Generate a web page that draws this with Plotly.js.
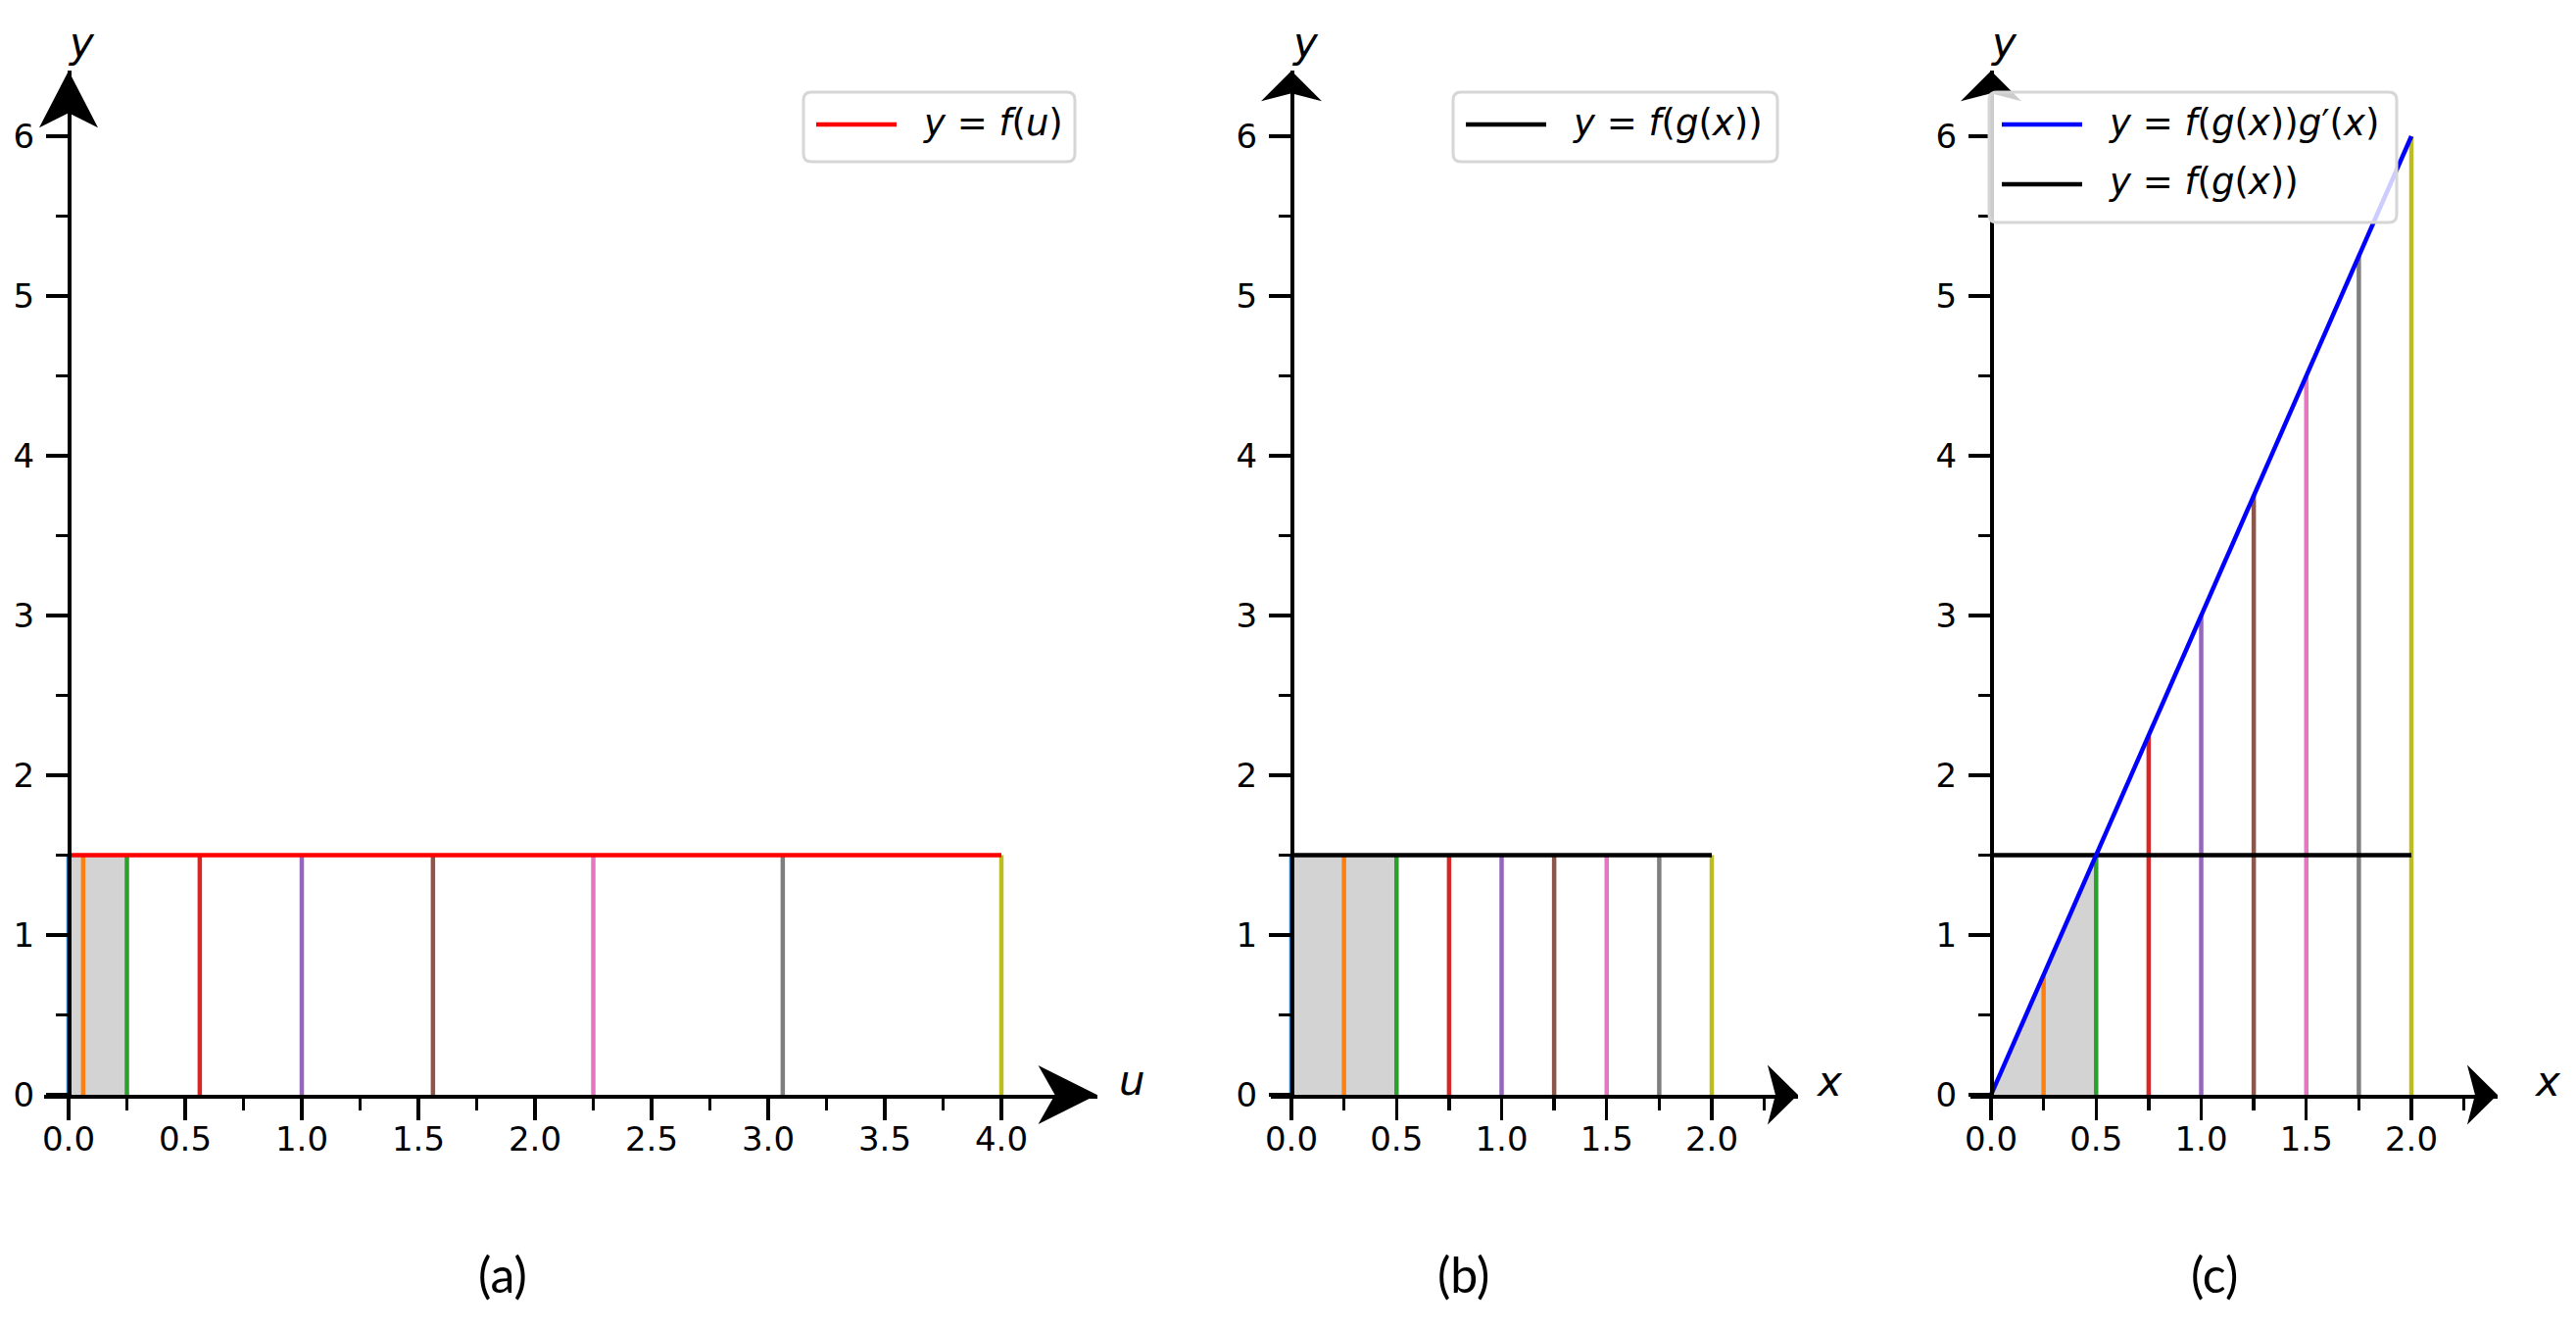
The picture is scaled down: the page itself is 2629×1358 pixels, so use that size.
<!DOCTYPE html>
<html>
<head>
<meta charset="utf-8">
<script src="https://cdn.plot.ly/plotly-3.0.1.min.js"></script>
<style>
  html, body { margin: 0; padding: 0; background: #fff; }
  #myDiv { width: 2629px; height: 1358px; }
</style>
</head>
<body>
<div id="myDiv"></div>
<script>
// ---- data ----
var xKnots = [0, 0.25, 0.5, 0.75, 1, 1.25, 1.5, 1.75, 2];
var uKnots = [0, 0.0625, 0.25, 0.5625, 1, 1.5625, 2.25, 3.0625, 4];
var flatHeights = [1.5, 1.5, 1.5, 1.5, 1.5, 1.5, 1.5, 1.5, 1.5];
var slopeHeights = [0, 0.75, 1.5, 2.25, 3, 3.75, 4.5, 5.25, 6];
var knotColors = ['#1f77b4', '#ff7f0e', '#2ca02c', '#d62728', '#9467bd',
                  '#8c564b', '#e377c2', '#7f7f7f', '#bcbd22'];

var fLineU = [0, 4], fLineUY = [1.5, 1.5];
var fLineX = [0, 2], fLineXY = [1.5, 1.5];
var slopeLineX = [0, 2], slopeLineY = [0, 6];

var shadeU = [0, 0.25], shadeUTop = [1.5, 1.5];
var shadeXb = [0, 0.5], shadeXbTop = [1.5, 1.5];
var shadeXc = [0, 0.5], shadeXcTop = [0, 1.5];

var panelNames = ['(a)', '(b)', '(c)'];
var xLabels = ['u', 'x', 'x'];
var legendA = [{text: '<i>y</i> = <i>f</i>(<i>u</i>)', color: '#ff0000'}];
var legendB = [{text: '<i>y</i> = <i>f</i>(<i>g</i>(<i>x</i>))', color: '#000000'}];
var legendC = [{text: '<i>y</i> = <i>f</i>(<i>g</i>(<i>x</i>))<i>g</i>\u2032(<i>x</i>)', color: '#0000ff'},
               {text: '<i>y</i> = <i>f</i>(<i>g</i>(<i>x</i>))', color: '#000000'}];

// ---- page geometry (pixels) ----
var W = 2629, H = 1358;
var Y0PX = 1117, YUNIT = 163, YMAX = 6.41;
var panels = [
  {x0: 70,   unit: 238,   xmin: -0.105, xmax: 4.41, xa: 'x',  ya: 'y',
   xArrow: {len: 60, half: 30, back: 17}, yArrow: {len: 58, half: 30, back: 15},
   xlab: [1155, 1102], ylab: [83, 44], name: [513, 1300]},
  {x0: 1318, unit: 214.5, xmin: -0.10,  xmax: 2.41, xa: 'x2', ya: 'y2',
   xArrow: {len: 31, half: 30.5, back: 8}, yArrow: {len: 31, half: 31, back: 8},
   xlab: [1867, 1103], ylab: [1332, 44], name: [1493, 1300]},
  {x0: 2032, unit: 214.5, xmin: -0.10,  xmax: 2.41, xa: 'x3', ya: 'y3',
   xArrow: {len: 31, half: 30.5, back: 8}, yArrow: {len: 31, half: 31, back: 8},
   xlab: [2600, 1103], ylab: [2045, 44], name: [2260, 1300]}
];
var legendBoxes = [
  {x1: 820,  y1: 94, x2: 1097, y2: 165, items: legendA},
  {x1: 1483, y1: 94, x2: 1814, y2: 165, items: legendB},
  {x1: 2030, y1: 94, x2: 2446, y2: 227, items: legendC}
];

function px(x) { return x / W; }
function py(y) { return 1 - y / H; }
function P(x, y) { return px(x) + ',' + py(y); }

// ---- traces ----
var data = [];
function shade(xs, ys, xa, ya) {
  data.push({x: xs, y: ys, xaxis: xa, yaxis: ya, type: 'scatter', mode: 'lines',
    fill: 'tozeroy', fillcolor: '#d3d3d3', line: {width: 0}, hoverinfo: 'skip'});
}
function stems(xs, hs, xa, ya) {
  for (var i = 0; i < xs.length; i++) {
    data.push({x: [xs[i], xs[i]], y: [0, hs[i]], xaxis: xa, yaxis: ya,
      type: 'scatter', mode: 'lines', line: {color: knotColors[i], width: 4.5}});
  }
}
function curve(xs, ys, color, xa, ya) {
  data.push({x: xs, y: ys, xaxis: xa, yaxis: ya, type: 'scatter', mode: 'lines',
    line: {color: color, width: 4.5}});
}

shade(shadeU, shadeUTop, 'x', 'y');
stems(uKnots, flatHeights, 'x', 'y');
curve(fLineU, fLineUY, '#ff0000', 'x', 'y');

shade(shadeXb, shadeXbTop, 'x2', 'y2');
stems(xKnots, flatHeights, 'x2', 'y2');
curve(fLineX, fLineXY, '#000000', 'x2', 'y2');

shade(shadeXc, shadeXcTop, 'x3', 'y3');
stems(xKnots, slopeHeights, 'x3', 'y3');
curve(fLineX, fLineXY, '#000000', 'x3', 'y3');
curve(slopeLineX, slopeLineY, '#0000ff', 'x3', 'y3');

// ---- layout ----
layout = {
  width: W, height: H,
  margin: {l: 0, r: 0, t: 0, b: 0},
  paper_bgcolor: '#ffffff', plot_bgcolor: 'rgba(0,0,0,0)',
  showlegend: false,
  font: {family: 'DejaVu Sans', color: '#000000'},
  shapes: [], annotations: []
};

var tickFont = {family: 'DejaVu Sans', size: 34, color: '#000'};

panels.forEach(function (p, i) {
  var sfx = i === 0 ? '' : String(i + 1);
  var left = p.x0 + p.xmin * p.unit, right = p.x0 + p.xmax * p.unit;
  var top = Y0PX - YMAX * YUNIT;
  layout['xaxis' + sfx] = {
    domain: [px(left), px(right)], range: [p.xmin, p.xmax], anchor: 'y' + sfx,
    showline: true, linecolor: '#000', linewidth: 3.7,
    ticks: 'outside', ticklen: 22, tickwidth: 3.3, tickcolor: '#000',
    tick0: 0, dtick: 0.5, tickformat: '.1f', ticklabelstandoff: -10,
    tickfont: tickFont,
    minor: {ticks: 'outside', ticklen: 12, tickwidth: 3.3, tickcolor: '#000',
            tick0: 0, dtick: 0.25, showgrid: false},
    showgrid: false, zeroline: false, fixedrange: true
  };
  layout['yaxis' + sfx] = {
    domain: [py(Y0PX), py(top)], range: [0, YMAX],
    anchor: 'free', position: px(p.x0),
    showline: true, linecolor: '#000', linewidth: 3.7,
    ticks: 'outside', ticklen: 22, tickwidth: 3.3, tickcolor: '#000',
    tick0: 0, dtick: 1, tickformat: 'd', ticklabelstandoff: 5,
    tickfont: tickFont,
    minor: {ticks: 'outside', ticklen: 12, tickwidth: 3.3, tickcolor: '#000',
            tick0: 0, dtick: 0.5, showgrid: false},
    showgrid: false, zeroline: false, fixedrange: true
  };

  // arrow heads at the ends of the axes, placed in page pixels
  var xa = p.xArrow, ya = p.yArrow;
  layout.shapes.push({
    type: 'path', xref: 'paper', yref: 'paper', layer: 'above',
    path: 'M' + P(right, Y0PX) + ' L' + P(right - xa.len, Y0PX - xa.half) +
          ' L' + P(right - xa.len + xa.back, Y0PX) + ' L' + P(right - xa.len, Y0PX + xa.half) + ' Z',
    fillcolor: '#000', line: {width: 0}
  });
  layout.shapes.push({
    type: 'path', xref: 'paper', yref: 'paper', layer: 'above',
    path: 'M' + P(p.x0, top) + ' L' + P(p.x0 - ya.half, top + ya.len) +
          ' L' + P(p.x0, top + ya.len - ya.back) + ' L' + P(p.x0 + ya.half, top + ya.len) + ' Z',
    fillcolor: '#000', line: {width: 0}
  });

  layout.annotations.push({
    xref: 'paper', yref: 'paper', x: px(p.xlab[0]), y: py(p.xlab[1]),
    text: '<i>' + xLabels[i] + '</i>', showarrow: false, xanchor: 'center', yanchor: 'middle',
    font: {family: 'DejaVu Sans', size: 42, color: '#000'}
  });
  layout.annotations.push({
    xref: 'paper', yref: 'paper', x: px(p.ylab[0]), y: py(p.ylab[1]),
    text: '<i>y</i>', showarrow: false, xanchor: 'center', yanchor: 'middle',
    font: {family: 'DejaVu Sans', size: 42, color: '#000'}
  });
  layout.annotations.push({
    xref: 'paper', yref: 'paper', x: px(p.name[0]), y: py(p.name[1]),
    text: panelNames[i], showarrow: false, xanchor: 'center', yanchor: 'middle',
    font: {family: 'Lato', size: 50, color: '#000'}
  });
});

// ---- legends drawn as boxes, sample lines and text ----
function roundRect(x1, y1, x2, y2, r) {
  return 'M' + P(x1 + r, y1) + ' L' + P(x2 - r, y1) + ' Q' + P(x2, y1) + ' ' + P(x2, y1 + r) +
         ' L' + P(x2, y2 - r) + ' Q' + P(x2, y2) + ' ' + P(x2 - r, y2) +
         ' L' + P(x1 + r, y2) + ' Q' + P(x1, y2) + ' ' + P(x1, y2 - r) +
         ' L' + P(x1, y1 + r) + ' Q' + P(x1, y1) + ' ' + P(x1 + r, y1) + ' Z';
}
legendBoxes.forEach(function (b) {
  layout.shapes.push({
    type: 'path', xref: 'paper', yref: 'paper', layer: 'above',
    path: roundRect(b.x1, b.y1, b.x2, b.y2, 8),
    fillcolor: 'rgba(255,255,255,0.8)', line: {color: '#d6d6d6', width: 3}
  });
  b.items.forEach(function (it, k) {
    var rowY = 127 + k * 61;
    layout.shapes.push({
      type: 'line', xref: 'paper', yref: 'paper', layer: 'above',
      x0: px(b.x1 + 13), x1: px(b.x1 + 95), y0: py(rowY), y1: py(rowY),
      line: {color: it.color, width: 4.5}
    });
    layout.annotations.push({
      xref: 'paper', yref: 'paper', x: px(b.x1 + 120), y: py(rowY - 2),
      text: it.text, showarrow: false, xanchor: 'left', yanchor: 'middle',
      font: {family: 'DejaVu Sans', size: 37, color: '#000'}
    });
  });
});

Plotly.newPlot('myDiv', data, layout, {displayModeBar: false, staticPlot: true});
</script>
</body>
</html>
